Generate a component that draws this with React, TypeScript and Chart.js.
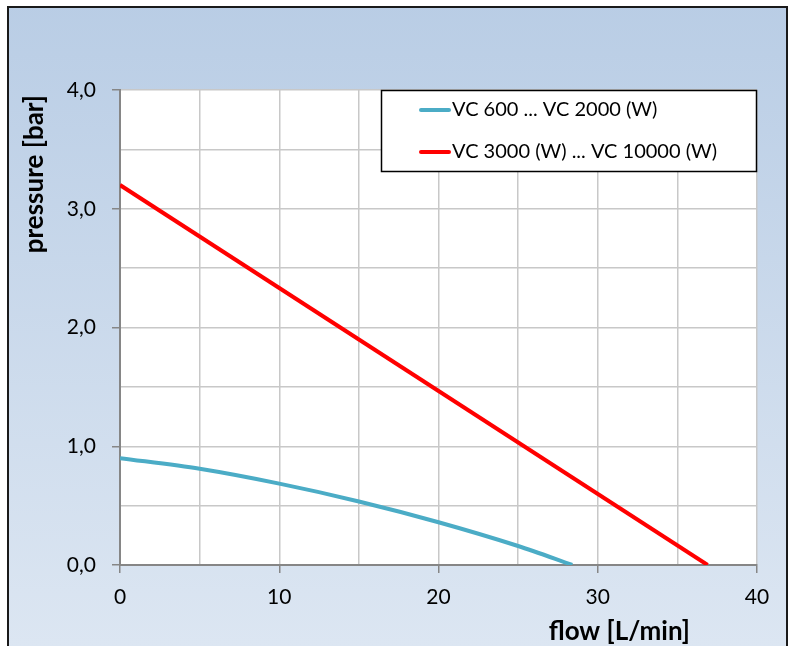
import React, { useEffect, useRef } from "react";
import { Chart, registerables } from "chart.js";

Chart.register(...registerables);

const seriesNames = ["VC 600 ... VC 2000 (W)", "VC 3000 (W) ... VC 10000 (W)"];
const smallFlow = [0, 5, 10, 15, 20, 25, 28.4];
const smallPressure = [0.9, 0.81, 0.685, 0.535, 0.36, 0.16, 0];
const bigFlow = [0, 36.9];
const bigPressure = [3.2, 0];
const xTitle = "flow [L/min]";
const yTitle = "pressure [bar]";

const FONT = "Lato, 'Open Sans', sans-serif";

const decoPlugin = {
  id: "deco",
  beforeDraw(chart: any) {
    const { ctx, width, height, chartArea } = chart;
    ctx.save();
    const g = ctx.createLinearGradient(0, 0, 0, height);
    g.addColorStop(0, "#B9CDE5");
    g.addColorStop(1, "#DCE6F2");
    ctx.fillStyle = g;
    ctx.fillRect(8, 7, 779, height);
    ctx.strokeStyle = "#1a1a1a";
    ctx.lineWidth = 2;
    ctx.strokeRect(8, 7, 779, height + 10);
    ctx.fillStyle = "#ffffff";
    ctx.fillRect(chartArea.left, chartArea.top, chartArea.right - chartArea.left, chartArea.bottom - chartArea.top);
    ctx.restore();
  },
  afterDraw(chart: any) {
    const { ctx } = chart;
    ctx.save();
    // axis titles
    ctx.fillStyle = "#000";
    ctx.font = `bold 26px ${FONT}`;
    ctx.textBaseline = "alphabetic";
    ctx.textAlign = "right";
    ctx.fillText(xTitle, 690, 640);
    ctx.translate(43, 95);
    ctx.rotate(-Math.PI / 2);
    ctx.textAlign = "right";
    ctx.fillText(yTitle, 0, 0);
    ctx.restore();

    // legend
    ctx.save();
    const lx = 381, ly = 90, lw = 376, lh = 82;
    ctx.fillStyle = "#fff";
    ctx.fillRect(lx, ly, lw, lh);
    ctx.strokeStyle = "#000";
    ctx.lineWidth = 1.5;
    ctx.strokeRect(lx + 0.5, ly + 0.5, lw - 1, lh - 1);
    const colors = ["#4BACC6", "#FF0000"];
    const rows = [110, 152];
    ctx.font = `20px ${FONT}`;
    ctx.textBaseline = "middle";
    ctx.textAlign = "left";
    seriesNames.forEach((n, i) => {
      ctx.strokeStyle = colors[i];
      ctx.lineWidth = 4;
      ctx.lineCap = "round";
      ctx.beginPath();
      ctx.moveTo(421, rows[i]);
      ctx.lineTo(449, rows[i]);
      ctx.stroke();
      ctx.fillStyle = "#000";
      ctx.fillText(n, 452, rows[i]);
    });
    ctx.restore();
  },
};

export default function App() {
  const ref = useRef<HTMLCanvasElement>(null);
  useEffect(() => {
    const toPts = (xs: number[], ys: number[]) => xs.map((x, i) => ({ x, y: ys[i] }));
    const chart = new Chart(ref.current!, {
      type: "scatter",
      data: {
        datasets: [
          {
            label: seriesNames[0],
            data: toPts(smallFlow, smallPressure),
            showLine: true,
            borderColor: "#4BACC6",
            backgroundColor: "#4BACC6",
            borderWidth: 4,
            pointRadius: 0,
            tension: 0.3,
          },
          {
            label: seriesNames[1],
            data: toPts(bigFlow, bigPressure),
            showLine: true,
            borderColor: "#FF0000",
            backgroundColor: "#FF0000",
            borderWidth: 4,
            pointRadius: 0,
          },
        ],
      },
      options: {
        animation: false,
        responsive: false,
        layout: { padding: { left: 0, right: 34, top: 90, bottom: 0 } },
        plugins: { legend: { display: false }, tooltip: { enabled: false } },
        scales: {
          x: {
            type: "linear",
            min: 0,
            max: 40,
            afterFit: (s: any) => { s.height = 81; },
            ticks: {
              stepSize: 5,
              color: "#000",
              font: { family: FONT, size: 21 },
              padding: 12,
              maxRotation: 0,
              autoSkip: false,
              callback: (v: any) => (Number(v) % 10 === 0 ? String(v) : ""),
            },
            grid: {
              color: "#C8C8C8",
              lineWidth: 1.5,
              tickLength: 8,
              tickColor: (c: any) => (c.tick && c.tick.value % 10 === 0 ? "#868686" : "rgba(0,0,0,0)"),
            },
            border: { color: "#868686", width: 2 },
          },
          y: {
            type: "linear",
            min: 0,
            max: 4,
            afterFit: (s: any) => { s.width = 120; },
            ticks: {
              stepSize: 0.5,
              color: "#000",
              font: { family: FONT, size: 21 },
              padding: 16,
              autoSkip: false,
              callback: (v: any) => (Number(v) % 1 === 0 ? Number(v).toFixed(1).replace(".", ",") : ""),
            },
            grid: {
              color: "#C8C8C8",
              lineWidth: 1.5,
              tickLength: 8,
              tickColor: (c: any) => (c.tick && c.tick.value % 1 === 0 ? "#868686" : "rgba(0,0,0,0)"),
            },
            border: { color: "#868686", width: 2 },
          },
        },
      },
      plugins: [decoPlugin],
    } as any);
    return () => chart.destroy();
  }, []);
  return (
    <div style={{ position: "fixed", left: 0, top: 0, width: 791, height: 646 }}>
      <canvas ref={ref} width={791} height={646} style={{ display: "block" }} />
    </div>
  );
}
